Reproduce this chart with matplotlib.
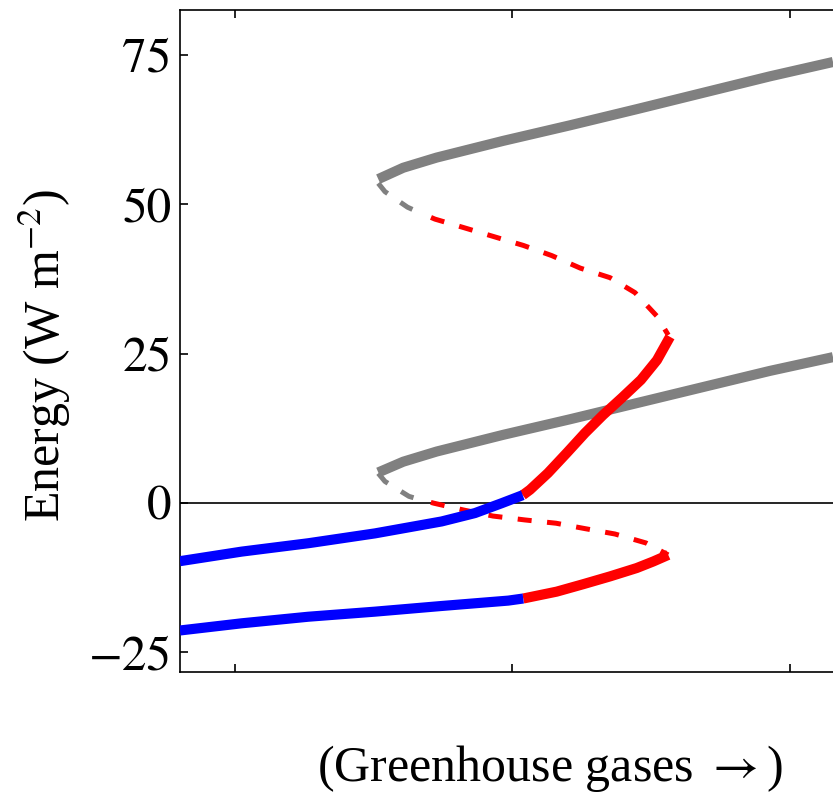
"""Energy balance fold curves versus greenhouse gas forcing."""

import matplotlib

matplotlib.use("Agg")
import matplotlib.pyplot as plt

plt.rcParams["mathtext.fontset"] = "stix"

# upper S-curve ------------------------------------------------------------
upper_warm_x = [1.5164, 1.6065, 1.7268, 1.9669, 2.2072, 2.4476, 2.6396, 2.9279, 3.155]
upper_warm_y = [54.2, 56.1, 57.8, 60.6, 63.2, 65.9, 68.1, 71.4, 73.8]

upper_mid_gray_x = [1.5164, 1.5405, 1.6216, 1.655]
upper_mid_gray_y = [53.5, 52.1, 49.5, 48.8]
upper_mid_red_x = [1.655, 1.7207, 1.8227, 1.9308, 2.0389, 2.1413, 2.2443,
                   2.3514, 2.4414, 2.5196, 2.5614]
upper_mid_red_y = [48.8, 47.5, 46.1, 44.6, 43.1, 41.4, 39.3, 37.7, 35.2, 31.3, 28.1]

upper_red_x = [2.5676, 2.5207, 2.4631, 2.3946, 2.3261, 2.2613, 2.1964, 2.1279,
               2.0631, 2.037]
upper_red_y = [27.8, 23.9, 20.6, 17.6, 14.7, 11.7, 8.4, 5.0, 2.2, 1.3]
upper_blue_x = [2.037, 1.9611, 1.8649, 1.7449, 1.5045, 1.2641, 1.0241, 0.8018]
upper_blue_y = [1.3, -0.05, -1.7, -3.1, -5.1, -6.75, -8.15, -9.75]

# lower S-curve ------------------------------------------------------------
lower_warm_x = [1.5164, 1.6065, 1.7268, 1.9669, 2.2072, 2.4476, 2.6876, 2.9279, 3.155]
lower_warm_y = [5.1, 6.9, 8.6, 11.4, 14.0, 16.7, 19.4, 22.1, 24.4]

lower_mid_gray_x = [1.5164, 1.5405, 1.627, 1.652]
lower_mid_gray_y = [4.95, 3.6, 1.1, 0.75]
lower_mid_red_x = [1.652, 1.717, 1.825, 1.930, 2.045, 2.157, 2.261, 2.369, 2.481, 2.561]
lower_mid_red_y = [0.75, -0.05, -1.2, -2.2, -2.85, -3.4, -4.3, -5.2, -6.7, -8.7]

lower_red_x = [2.5614, 2.5074, 2.4476, 2.3514, 2.2551, 2.1593, 2.0389]
lower_red_y = [-8.7, -9.8, -10.9, -12.3, -13.6, -14.85, -16.0]
lower_blue_x = [2.0389, 1.9849, 1.7449, 1.5045, 1.2641, 1.0241, 0.8018]
lower_blue_y = [-16.0, -16.35, -17.25, -18.2, -19.05, -20.15, -21.35]

y_ticks = [-25, 0, 25, 50, 75]
x_ticks = [1, 2, 3]

GRAY = "#808080"
RED = "#ff0000"
BLUE = "#0000ff"

fig = plt.figure(figsize=(8.33, 7.93), dpi=100)
ax = fig.add_axes([180 / 833, 1 - 672 / 793, 740 / 833, 662 / 793])

solid = dict(linewidth=7.3, solid_capstyle="butt", solid_joinstyle="round")
dash_gray = dict(linewidth=3.6, linestyle=(0, (2.8, 3.1)), dash_capstyle="butt")
dash_red = dict(linewidth=3.6, linestyle=(2.8, (2.8, 3.1)), dash_capstyle="butt")

ax.axhline(0, color="black", linewidth=1.2, zorder=1)

for xs, ys in [(upper_warm_x, upper_warm_y), (lower_warm_x, lower_warm_y)]:
    ax.plot(xs, ys, color=GRAY, zorder=2, **solid)
for xs, ys in [(upper_mid_gray_x, upper_mid_gray_y), (lower_mid_gray_x, lower_mid_gray_y)]:
    ax.plot(xs, ys, color=GRAY, zorder=2, **dash_gray)
for xs, ys in [(upper_mid_red_x, upper_mid_red_y), (lower_mid_red_x, lower_mid_red_y)]:
    ax.plot(xs, ys, color=RED, zorder=2, **dash_red)
for xs, ys in [(upper_red_x, upper_red_y), (lower_red_x, lower_red_y)]:
    ax.plot(xs, ys, color=RED, zorder=3, **solid)
for xs, ys in [(upper_blue_x, upper_blue_y), (lower_blue_x, lower_blue_y)]:
    ax.plot(xs, ys, color=BLUE, zorder=3, **solid)

ax.set_xlim(0.802, 1 + (920 - 235) / 277.5)
ax.set_ylim(-28.3, 82.5)

ax.set_yticks(y_ticks)
ax.set_yticklabels([str(v).replace("-", "\u2212") for v in y_ticks],
                   fontfamily="STIXGeneral", fontsize=35.5)
ax.set_xticks(x_ticks)
ax.set_xticklabels([])
ax.tick_params(axis="both", direction="in", length=6, width=1.2,
               top=True, right=True, pad=6)
for spine in ax.spines.values():
    spine.set_linewidth(1.2)

fig.text(45 / 833, 1 - 355 / 793, "Energy (W m$^{-2}$)", rotation=90,
         ha="center", va="center", fontsize=36,
         family=["Liberation Serif", "DejaVu Serif"])
fig.text(550 / 833, 1 - 768 / 793, r"(Greenhouse gases $\rightarrow$)",
         ha="center", va="center", fontsize=36,
         family=["Liberation Serif", "DejaVu Serif"])

fig.savefig("out.png", dpi=100)
